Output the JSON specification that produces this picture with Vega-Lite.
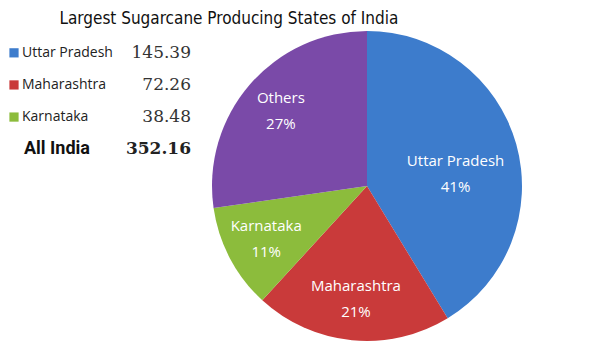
{
  "$schema": "https://vega.github.io/schema/vega-lite/v6.json",
  "padding": {"left": 9, "top": 10, "right": 5, "bottom": 5},
  "background": "white",
  "title": {
    "text": "Largest Sugarcane Producing States of India",
    "anchor": "start",
    "dx": 50,
    "offset": -10,
    "baseline": "alphabetic",
    "font": "DejaVu Sans Condensed, sans-serif",
    "fontSize": 17,
    "fontWeight": "normal",
    "color": "#111111"
  },
  "datasets": {
    "states": [
      {"state": "Uttar Pradesh", "production": 145.39, "rank": 1},
      {"state": "Maharashtra", "production": 72.26, "rank": 2},
      {"state": "Karnataka", "production": 38.48, "rank": 3},
      {"state": "Others", "production": 96.03, "rank": 4}
    ],
    "total": [
      {"state": "All India", "production": 352.16}
    ]
  },
  "spacing": 21,
  "config": {"view": {"stroke": null}},
  "hconcat": [
    {
      "width": 169,
      "height": 140,
      "encoding": {
        "y": {
          "field": "state",
          "type": "nominal",
          "scale": {"type": "point", "padding": 0.68, "domain": ["Uttar Pradesh", "Maharashtra", "Karnataka", "All India"]},
          "axis": null
        }
      },
      "layer": [
        {
          "data": {"name": "states"},
          "transform": [{"filter": "datum.state !== 'Others'"}],
          "mark": {"type": "point", "shape": "square", "filled": true, "size": 85, "opacity": 1, "xOffset": -8},
          "encoding": {
            "x": {"datum": "name", "scale": {"type": "band", "domain": ["name", "value"], "paddingInner": 0, "paddingOuter": 0}, "axis": null, "bandPosition": 0},
            "color": {
              "field": "state",
              "type": "nominal",
              "scale": {"domain": ["Uttar Pradesh", "Maharashtra", "Karnataka", "Others"], "range": ["#3d7ccc", "#c93a3a", "#8cbc3c", "#7a4aa8"]},
              "legend": null
            }
          }
        },
        {
          "data": {"name": "states"},
          "transform": [{"filter": "datum.state !== 'Others'"}],
          "mark": {"type": "text", "align": "left", "baseline": "middle", "font": "Open Sans", "fontSize": 14, "color": "#222222"},
          "encoding": {
            "x": {"datum": "name", "bandPosition": 0},
            "text": {"field": "state"}
          }
        },
        {
          "data": {"name": "states"},
          "transform": [{"filter": "datum.state !== 'Others'"}],
          "mark": {"type": "text", "align": "right", "baseline": "middle", "font": "DejaVu Serif", "fontSize": 17, "color": "#333333"},
          "encoding": {
            "x": {"datum": "value", "bandPosition": 1},
            "text": {"field": "production", "format": ".2f"}
          }
        },
        {
          "data": {"name": "total"},
          "mark": {"type": "text", "align": "left", "baseline": "middle", "font": "Roboto", "fontSize": 18, "fontWeight": "bold", "color": "#111111", "xOffset": 2},
          "encoding": {
            "x": {"datum": "name", "bandPosition": 0},
            "text": {"field": "state"}
          }
        },
        {
          "data": {"name": "total"},
          "mark": {"type": "text", "align": "right", "baseline": "middle", "font": "DejaVu Serif", "fontSize": 17, "fontWeight": "bold", "color": "#222222"},
          "encoding": {
            "x": {"datum": "value", "bandPosition": 1},
            "text": {"field": "production", "format": ".2f"}
          }
        }
      ]
    },
    {
      "width": 310,
      "height": 310,
      "data": {"name": "states"},
      "transform": [
        {"joinaggregate": [{"op": "sum", "field": "production", "as": "total"}]},
        {"calculate": "datum.production / datum.total", "as": "share"}
      ],
      "encoding": {
        "theta": {"field": "production", "type": "quantitative", "stack": true},
        "order": {"field": "rank", "type": "quantitative", "sort": "ascending"},
        "color": {
          "field": "state",
          "type": "nominal",
          "legend": null
        }
      },
      "layer": [
        {"mark": {"type": "arc", "stroke": null}},
        {
          "mark": {"type": "text", "radius": 114, "dy": -13, "font": "Open Sans", "fontSize": 15},
          "encoding": {
            "text": {"field": "state"},
            "color": {"value": "white"},
            "opacity": {"condition": {"test": "datum.state === 'Uttar Pradesh'", "value": 0}, "value": 1}
          }
        },
        {
          "mark": {"type": "text", "radius": 114, "dy": 13, "font": "Open Sans", "fontSize": 15},
          "encoding": {
            "text": {"field": "share", "format": ".0%"},
            "color": {"value": "white"},
            "opacity": {"condition": {"test": "datum.state === 'Uttar Pradesh'", "value": 0}, "value": 1}
          }
        },
        {
          "mark": {"type": "text", "radius": 92, "dy": 0, "font": "Open Sans", "fontSize": 15},
          "encoding": {
            "text": {"field": "state"},
            "color": {"value": "white"},
            "opacity": {"condition": {"test": "datum.state === 'Uttar Pradesh'", "value": 1}, "value": 0}
          }
        },
        {
          "mark": {"type": "text", "radius": 92, "dy": 26, "font": "Open Sans", "fontSize": 15},
          "encoding": {
            "text": {"field": "share", "format": ".0%"},
            "color": {"value": "white"},
            "opacity": {"condition": {"test": "datum.state === 'Uttar Pradesh'", "value": 1}, "value": 0}
          }
        }
      ]
    }
  ]
}
